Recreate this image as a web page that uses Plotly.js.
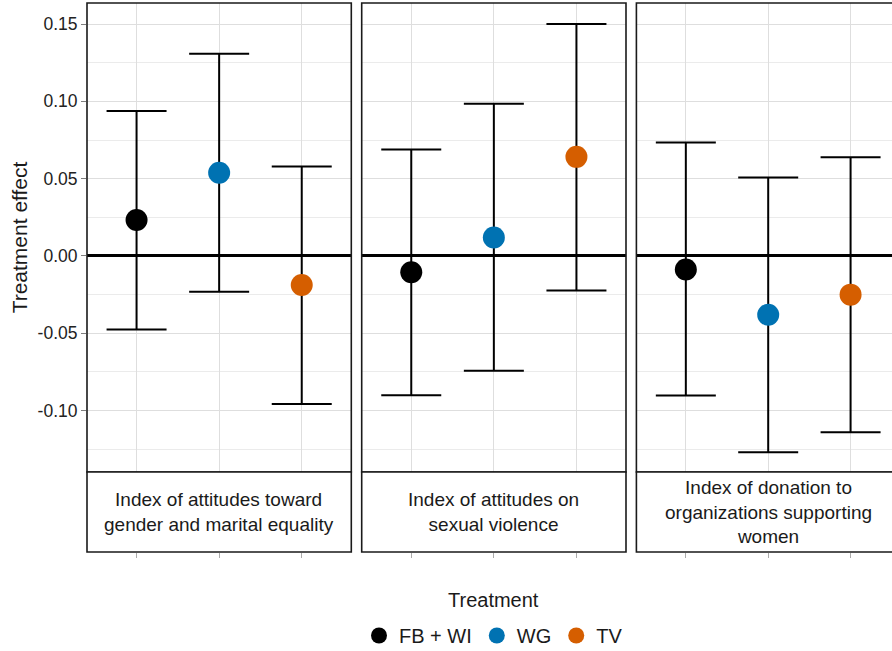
<!DOCTYPE html>
<html>
<head>
<meta charset="utf-8">
<script src="https://cdn.plot.ly/plotly-3.0.1.min.js"></script>
<style>
  html, body { margin: 0; padding: 0; overflow: hidden; background: #ffffff; }
  #chart { width: 900px; height: 651px; }
</style>
</head>
<body>
<div id="chart"></div>
<script>
// ---- Data ----
const treatments = ["FB + WI", "WG", "TV"];
const treatmentColors = ["#000000", "#0072B2", "#D55E00"];
const legendTitle = "Treatment";
const outcomes = [
  "Index of attitudes toward<br>gender and marital equality",
  "Index of attitudes on<br>sexual violence",
  "Index of donation to<br>organizations supporting<br>women"
];
// point estimates, by outcome (order: FB + WI, WG, TV)
const estGender   = [0.0233, 0.0538, -0.0188];
const estSexual   = [-0.0105, 0.0120, 0.0641];
const estDonation = [-0.0088, -0.0380, -0.0250];
// lower CI bounds
const lowGender   = [-0.0476, -0.0232, -0.0958];
const lowSexual   = [-0.0901, -0.0743, -0.0224];
const lowDonation = [-0.0902, -0.1270, -0.1140];
// upper CI bounds
const highGender   = [0.0938, 0.1307, 0.0579];
const highSexual   = [0.0689, 0.0984, 0.1500];
const highDonation = [0.0734, 0.0508, 0.0638];

const yTickVals = [-0.10, -0.05, 0.00, 0.05, 0.10, 0.15];
const yTickText = ["-0.10", "-0.05", "0.00", "0.05", "0.10", "0.15"];
const yMinorVals = [-0.125, -0.075, -0.025, 0.025, 0.075, 0.125];

const estimates = [estGender, estSexual, estDonation];
const lows = [lowGender, lowSexual, lowDonation];
const highs = [highGender, highSexual, highDonation];

// ---- Build ----
const FONT = '"Liberation Sans", Arial, Helvetica, sans-serif';
const TXT = '#1a1a1a';
const traces = [];
for (let p = 0; p < 3; p++) {
  const xa = p === 0 ? 'x' : 'x' + (p + 1);
  for (let t = 0; t < 3; t++) {
    traces.push({
      type: 'scatter',
      mode: 'markers',
      x: [treatments[t]],
      y: [estimates[p][t]],
      xaxis: xa,
      yaxis: 'y',
      name: treatments[t],
      legendgroup: treatments[t],
      showlegend: p === 0,
      marker: { color: treatmentColors[t], size: 22, line: { width: 0 } },
      error_y: {
        type: 'data',
        symmetric: false,
        array: [highs[p][t] - estimates[p][t]],
        arrayminus: [estimates[p][t] - lows[p][t]],
        color: '#000000',
        thickness: 2,
        width: 30
      },
      hoverinfo: 'skip'
    });
  }
}

const MARGIN_L = 87, FIG_W = 900, FIG_H = 651;
const plotW = FIG_W - MARGIN_L;
const panelW = 264.3, gap = 10.4;
const stripTopPx = 472, stripBottomPx = 552, topPx = 3;
const plotH = stripBottomPx - topPx;
const yDomLow = (stripBottomPx - stripTopPx) / plotH;

const layout = {
  width: FIG_W,
  height: FIG_H,
  margin: { l: MARGIN_L, r: 0, t: topPx, b: FIG_H - stripBottomPx },
  paper_bgcolor: '#ffffff',
  plot_bgcolor: '#ffffff',
  font: { family: FONT, color: TXT, size: 17 },
  showlegend: true,
  legend: {
    orientation: 'h',
    xref: 'paper', yref: 'container',
    x: 0.5, xanchor: 'center',
    y: 35 / FIG_H, yanchor: 'top',
    font: { size: 20, color: TXT },
    itemclick: false, itemdoubleclick: false
  },
  yaxis: {
    domain: [yDomLow, 1],
    range: [-0.1397, 0.1636],
    tickmode: 'array',
    tickvals: yTickVals,
    ticktext: yTickText,
    ticks: 'outside', ticklen: 5, tickwidth: 1, tickcolor: '#7f7f7f',
    tickfont: { size: 17.5, color: '#222222' },
    showgrid: true, gridcolor: '#dedede', gridwidth: 1,
    minor: { tickmode: 'array', tickvals: yMinorVals, showgrid: true, gridcolor: '#ebebeb', gridwidth: 1, ticks: '' },
    zeroline: true, zerolinecolor: '#000000', zerolinewidth: 3,
    showline: false,
    title: { text: 'Treatment effect', font: { size: 21, color: TXT }, standoff: 4 },
    fixedrange: true
  },
  shapes: [],
  annotations: [{
    xref: 'paper', yref: 'paper', x: 0.5, y: -(600 - stripBottomPx) / plotH,
    xanchor: 'center', yanchor: 'middle', showarrow: false,
    text: legendTitle, font: { size: 20, color: TXT }
  }]
};

for (let p = 0; p < 3; p++) {
  const key = p === 0 ? 'xaxis' : 'xaxis' + (p + 1);
  const ref = p === 0 ? 'x' : 'x' + (p + 1);
  const d0 = (p * (panelW + gap)) / plotW;
  const d1 = Math.min(1, (p * (panelW + gap) + panelW) / plotW);
  layout[key] = {
    domain: [d0, d1],
    type: 'category',
    categoryorder: 'array',
    categoryarray: treatments,
    range: [-0.6, 2.6],
    anchor: 'free',
    position: 0,
    showticklabels: false,
    ticks: 'outside', ticklen: 5, tickwidth: 1, tickcolor: '#aaaaaa',
    showgrid: true, gridcolor: '#dedede', gridwidth: 1,
    zeroline: false, showline: false,
    fixedrange: true
  };
  // panel frame
  layout.shapes.push({
    type: 'rect', xref: ref + ' domain', yref: 'y domain',
    x0: 0, x1: 1, y0: 0, y1: 1,
    line: { color: '#1a1a1a', width: 1.6 }, fillcolor: 'rgba(0,0,0,0)', layer: 'above'
  });
  // strip box
  layout.shapes.push({
    type: 'rect', xref: ref + ' domain', yref: 'paper',
    x0: 0, x1: 1, y0: 0, y1: yDomLow,
    line: { color: '#1a1a1a', width: 1.6 }, fillcolor: '#ffffff', layer: 'above'
  });
  layout.annotations.push({
    xref: ref + ' domain', yref: 'paper',
    x: 0.5, y: yDomLow / 2, xanchor: 'center', yanchor: 'middle',
    text: outcomes[p], showarrow: false, align: 'center',
    font: { size: 19, color: TXT }
  });
}

Plotly.newPlot('chart', traces, layout, { displayModeBar: false, staticPlot: true });
</script>
</body>
</html>
